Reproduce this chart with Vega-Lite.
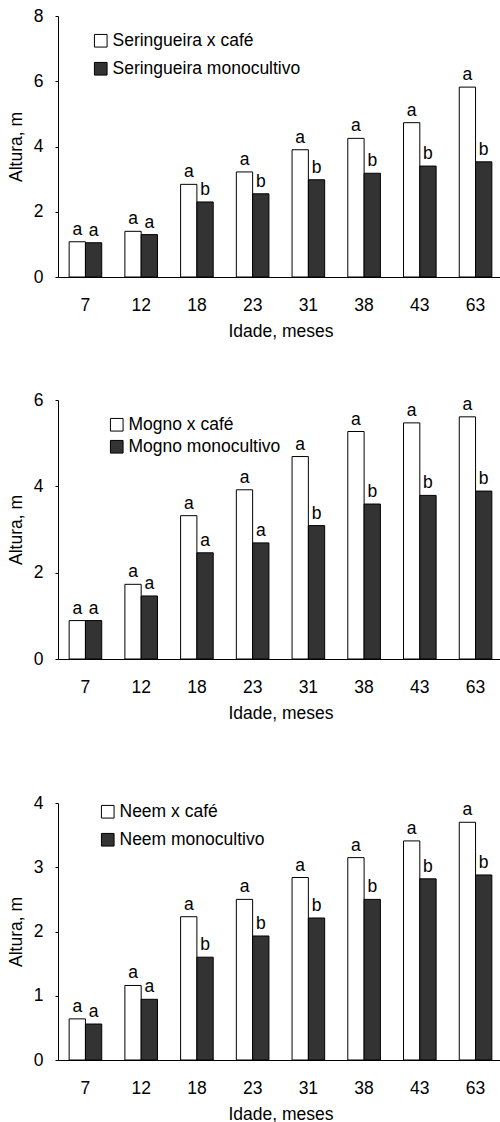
{
  "$schema": "https://vega.github.io/schema/vega-lite/v6.json",
  "padding": {"left": 7, "top": 7, "right": 0, "bottom": 0},
  "datasets": {
    "seringueira": [
      {"idade": 7, "trat": "Seringueira x café", "altura": 1.08, "letra": "a"},
      {"idade": 7, "trat": "Seringueira monocultivo", "altura": 1.05, "letra": "a"},
      {"idade": 12, "trat": "Seringueira x café", "altura": 1.40, "letra": "a"},
      {"idade": 12, "trat": "Seringueira monocultivo", "altura": 1.30, "letra": "a"},
      {"idade": 18, "trat": "Seringueira x café", "altura": 2.84, "letra": "a"},
      {"idade": 18, "trat": "Seringueira monocultivo", "altura": 2.30, "letra": "b"},
      {"idade": 23, "trat": "Seringueira x café", "altura": 3.22, "letra": "a"},
      {"idade": 23, "trat": "Seringueira monocultivo", "altura": 2.55, "letra": "b"},
      {"idade": 31, "trat": "Seringueira x café", "altura": 3.90, "letra": "a"},
      {"idade": 31, "trat": "Seringueira monocultivo", "altura": 2.98, "letra": "b"},
      {"idade": 38, "trat": "Seringueira x café", "altura": 4.25, "letra": "a"},
      {"idade": 38, "trat": "Seringueira monocultivo", "altura": 3.18, "letra": "b"},
      {"idade": 43, "trat": "Seringueira x café", "altura": 4.73, "letra": "a"},
      {"idade": 43, "trat": "Seringueira monocultivo", "altura": 3.40, "letra": "b"},
      {"idade": 63, "trat": "Seringueira x café", "altura": 5.82, "letra": "a"},
      {"idade": 63, "trat": "Seringueira monocultivo", "altura": 3.53, "letra": "b"}
    ],
    "mogno": [
      {"idade": 7, "trat": "Mogno x café", "altura": 0.89, "letra": "a"},
      {"idade": 7, "trat": "Mogno monocultivo", "altura": 0.89, "letra": "a"},
      {"idade": 12, "trat": "Mogno x café", "altura": 1.73, "letra": "a"},
      {"idade": 12, "trat": "Mogno monocultivo", "altura": 1.46, "letra": "a"},
      {"idade": 18, "trat": "Mogno x café", "altura": 3.32, "letra": "a"},
      {"idade": 18, "trat": "Mogno monocultivo", "altura": 2.46, "letra": "a"},
      {"idade": 23, "trat": "Mogno x café", "altura": 3.92, "letra": "a"},
      {"idade": 23, "trat": "Mogno monocultivo", "altura": 2.69, "letra": "a"},
      {"idade": 31, "trat": "Mogno x café", "altura": 4.69, "letra": "a"},
      {"idade": 31, "trat": "Mogno monocultivo", "altura": 3.09, "letra": "b"},
      {"idade": 38, "trat": "Mogno x café", "altura": 5.27, "letra": "a"},
      {"idade": 38, "trat": "Mogno monocultivo", "altura": 3.59, "letra": "b"},
      {"idade": 43, "trat": "Mogno x café", "altura": 5.47, "letra": "a"},
      {"idade": 43, "trat": "Mogno monocultivo", "altura": 3.79, "letra": "b"},
      {"idade": 63, "trat": "Mogno x café", "altura": 5.61, "letra": "a"},
      {"idade": 63, "trat": "Mogno monocultivo", "altura": 3.89, "letra": "b"}
    ],
    "neem": [
      {"idade": 7, "trat": "Neem x café", "altura": 0.64, "letra": "a"},
      {"idade": 7, "trat": "Neem monocultivo", "altura": 0.56, "letra": "a"},
      {"idade": 12, "trat": "Neem x café", "altura": 1.16, "letra": "a"},
      {"idade": 12, "trat": "Neem monocultivo", "altura": 0.945, "letra": "a"},
      {"idade": 18, "trat": "Neem x café", "altura": 2.23, "letra": "a"},
      {"idade": 18, "trat": "Neem monocultivo", "altura": 1.60, "letra": "b"},
      {"idade": 23, "trat": "Neem x café", "altura": 2.50, "letra": "a"},
      {"idade": 23, "trat": "Neem monocultivo", "altura": 1.93, "letra": "b"},
      {"idade": 31, "trat": "Neem x café", "altura": 2.84, "letra": "a"},
      {"idade": 31, "trat": "Neem monocultivo", "altura": 2.21, "letra": "b"},
      {"idade": 38, "trat": "Neem x café", "altura": 3.15, "letra": "a"},
      {"idade": 38, "trat": "Neem monocultivo", "altura": 2.50, "letra": "b"},
      {"idade": 43, "trat": "Neem x café", "altura": 3.41, "letra": "a"},
      {"idade": 43, "trat": "Neem monocultivo", "altura": 2.82, "letra": "b"},
      {"idade": 63, "trat": "Neem x café", "altura": 3.70, "letra": "a"},
      {"idade": 63, "trat": "Neem monocultivo", "altura": 2.88, "letra": "b"}
    ]
  },
  "config": {
    "font": "Liberation Sans",
    "view": {"stroke": null},
    "axis": {
      "domainColor": "black", "tickColor": "black", "labelColor": "black", "titleColor": "black",
      "labelFontSize": 17.5, "titleFontSize": 17.5, "titleFontWeight": "normal", "grid": false,
      "labelFont": "Liberation Sans", "titleFont": "Liberation Sans"
    },
    "legend": {"labelFont": "Liberation Sans", "labelLimit": 400}
  },
  "spacing": 72,
  "resolve": {"scale": {"fill": "independent", "xOffset": "independent", "y": "independent", "x": "independent"}, "legend": {"fill": "independent"}},
  "vconcat": [
    {
      "spacing": 51,
      "resolve": {"scale": {"fill": "independent", "xOffset": "independent", "y": "independent", "x": "independent"}, "legend": {"fill": "independent"}},
      "vconcat": [
        {
          "width": 445, "height": 261,
          "data": {"name": "seringueira"},
          "encoding": {
            "x": {"field": "idade", "type": "ordinal", "scale": {"paddingInner": 0.415, "paddingOuter": 0.2},
                  "axis": {"title": "Idade, meses", "labelAngle": 0, "ticks": false, "labelPadding": 19, "titlePadding": 9}},
            "xOffset": {"field": "trat", "type": "nominal", "scale": {"domain": ["Seringueira x café", "Seringueira monocultivo"], "paddingInner": 0, "paddingOuter": 0}},
            "y": {"field": "altura", "type": "quantitative", "scale": {"domain": [0, 8], "nice": false},
                  "axis": {"title": "Altura, m", "values": [0, 2, 4, 6, 8], "tickSize": 3, "labelPadding": 12, "titlePadding": 8}}
          },
          "layer": [
            {"mark": {"type": "bar", "stroke": "black", "strokeWidth": 1},
             "encoding": {"fill": {"field": "trat", "type": "nominal",
               "scale": {"domain": ["Seringueira x café", "Seringueira monocultivo"], "range": ["white", "#333333"]},
               "legend": {"orient": "none", "legendX": 34, "legendY": 16, "title": null, "padding": 0, "symbolType": "square", "symbolSize": 160, "symbolStrokeColor": "black", "symbolStrokeWidth": 1, "labelFontSize": 17.5, "labelColor": "black", "rowPadding": 9, "labelOffset": 3}}}},
            {"mark": {"type": "text", "baseline": "alphabetic", "dy": -7, "fontSize": 17.5, "color": "black"},
             "encoding": {"text": {"field": "letra"}}}
          ]
        },
        {
          "width": 445, "height": 259,
          "data": {"name": "mogno"},
          "encoding": {
            "x": {"field": "idade", "type": "ordinal", "scale": {"paddingInner": 0.415, "paddingOuter": 0.2},
                  "axis": {"title": "Idade, meses", "labelAngle": 0, "ticks": false, "labelPadding": 19, "titlePadding": 9}},
            "xOffset": {"field": "trat", "type": "nominal", "scale": {"domain": ["Mogno x café", "Mogno monocultivo"], "paddingInner": 0, "paddingOuter": 0}},
            "y": {"field": "altura", "type": "quantitative", "scale": {"domain": [0, 6], "nice": false},
                  "axis": {"title": "Altura, m", "values": [0, 2, 4, 6], "tickSize": 3, "labelPadding": 12, "titlePadding": 8}}
          },
          "layer": [
            {"mark": {"type": "bar", "stroke": "black", "strokeWidth": 1},
             "encoding": {"fill": {"field": "trat", "type": "nominal",
               "scale": {"domain": ["Mogno x café", "Mogno monocultivo"], "range": ["white", "#333333"]},
               "legend": {"orient": "none", "legendX": 50, "legendY": 16, "title": null, "padding": 0, "symbolType": "square", "symbolSize": 160, "symbolStrokeColor": "black", "symbolStrokeWidth": 1, "labelFontSize": 17.5, "labelColor": "black", "rowPadding": 3, "labelOffset": 3}}}},
            {"mark": {"type": "text", "baseline": "alphabetic", "dy": -7, "fontSize": 17.5, "color": "black"},
             "encoding": {"text": {"field": "letra"}}}
          ]
        }
      ]
    },
    {
      "width": 445, "height": 257,
      "data": {"name": "neem"},
      "encoding": {
        "x": {"field": "idade", "type": "ordinal", "scale": {"paddingInner": 0.415, "paddingOuter": 0.2},
              "axis": {"title": "Idade, meses", "labelAngle": 0, "ticks": false, "labelPadding": 19, "titlePadding": 9}},
        "xOffset": {"field": "trat", "type": "nominal", "scale": {"domain": ["Neem x café", "Neem monocultivo"], "paddingInner": 0, "paddingOuter": 0}},
        "y": {"field": "altura", "type": "quantitative", "scale": {"domain": [0, 4], "nice": false},
              "axis": {"title": "Altura, m", "values": [0, 1, 2, 3, 4], "tickSize": 3, "labelPadding": 12, "titlePadding": 8}}
      },
      "layer": [
        {"mark": {"type": "bar", "stroke": "black", "strokeWidth": 1},
         "encoding": {"fill": {"field": "trat", "type": "nominal",
           "scale": {"domain": ["Neem x café", "Neem monocultivo"], "range": ["white", "#333333"]},
           "legend": {"orient": "none", "legendX": 41, "legendY": 0, "title": null, "padding": 0, "symbolType": "square", "symbolSize": 160, "symbolStrokeColor": "black", "symbolStrokeWidth": 1, "labelFontSize": 17.5, "labelColor": "black", "rowPadding": 9, "labelOffset": 3}}}},
        {"mark": {"type": "text", "baseline": "alphabetic", "dy": -7, "fontSize": 17.5, "color": "black"},
         "encoding": {"text": {"field": "letra"}}}
      ]
    }
  ]
}
